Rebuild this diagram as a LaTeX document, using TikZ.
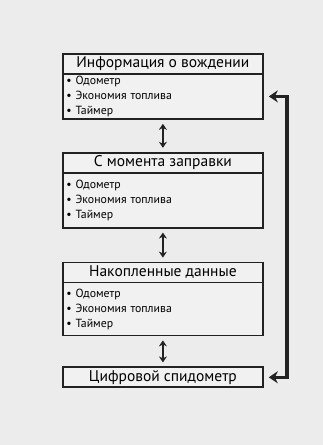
\documentclass[tikz,border=0pt]{standalone}
\usepackage{fontspec}
\setmainfont{PT Sans}
\usetikzlibrary{arrows.meta, positioning}
\definecolor{bggray}{RGB}{236, 236, 236}
\definecolor{boxgray}{RGB}{241, 241, 241}
\definecolor{inkdark}{RGB}{34, 34, 34}

\begin{document}
\begin{tikzpicture}[x=1pt, y=-1pt,
    headbox/.style={draw=inkdark, line width=1.8pt, fill=boxgray, minimum width=200pt, minimum height=20pt, inner sep=0pt, font=\fontsize{15.5}{16}\selectfont},
    listbox/.style={draw=inkdark, line width=1.8pt, fill=boxgray, minimum width=200pt, text width=193pt, align=left, inner sep=0pt, font=\fontsize{11.8}{15}\selectfont},
    swap/.style={{Stealth[length=6pt, width=8pt]}-{Stealth[length=6pt, width=8pt]}, line width=2.2pt, inkdark, shorten <=4pt, shorten >=4pt}]
    \fill[bggray] (0,0) rectangle (323,445);
    \useasboundingbox (0,0) rectangle (323,445);
    % driving info
    \node[headbox, anchor=north west] (info) at (62,53) {Информация о вождении};
    \node[listbox, minimum height=45pt, below=-1.8pt of info] (infolist) {• Одометр\\• Экономия топлива\\• Таймер};
    % since refuel
    \node[headbox, below=32pt of infolist] (refuel) {С момента заправки};
    \node[listbox, minimum height=55pt, below=-1.8pt of refuel] (refuellist) {• Одометр\\• Экономия топлива\\• Таймер};
    % accumulated
    \node[headbox, below=33pt of refuellist] (total) {Накопленные данные};
    \node[listbox, minimum height=53pt, below=-1.8pt of total] (totallist) {• Одометр\\• Экономия топлива\\• Таймер};
    % speedometer
    \node[headbox, below=30pt of totallist] (speedo) {Цифровой спидометр};
    \draw[swap] (infolist) -- (refuel);
    \draw[swap] (refuellist) -- (total);
    \draw[swap] (totallist) -- (speedo);
    \draw[{Stealth[length=9pt, width=12pt]}-{Stealth[length=9pt, width=12pt]}, line width=3.5pt, inkdark, shorten <=5pt, shorten >=5pt] (infolist.east) -- ++(23,0) |- (speedo.east);
\end{tikzpicture}
\end{document}
